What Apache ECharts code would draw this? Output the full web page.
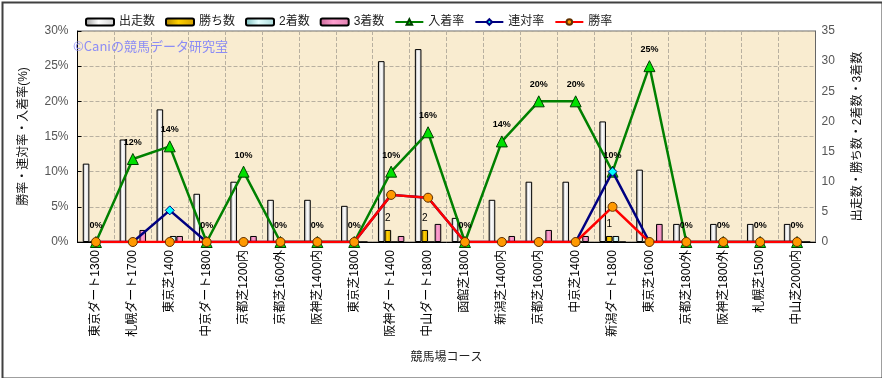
<!DOCTYPE html>
<html>
<head>
<meta charset="utf-8">
<script src="https://cdn.jsdelivr.net/npm/echarts@6/dist/echarts.min.js"></script>
<style>
html,body{margin:0;padding:0;background:#fff;}
#chart{width:882px;height:378px;}
</style>
</head>
<body>
<div id="chart"></div>
<script>
const categories = ['東京ダート1300','札幌ダート1700','東京芝1400','中京ダート1800','京都芝1200内','京都芝1600外','阪神芝1400内','東京芝1800','阪神ダート1400','中山ダート1800','函館芝1800','新潟芝1400内','京都芝1600内','中京芝1400','新潟ダート1800','東京芝1600','京都芝1800外','阪神芝1800外','札幌芝1500','中山芝2000内'];
const starts  = [13,17,22,8,10,7,7,6,30,32,4,7,10,10,20,12,3,3,3,3];
const wins    = [0,0,0,0,0,0,0,0,2,2,0,0,0,0,1,0,0,0,0,0];
const seconds = [0,0,1,0,0,0,0,0,0,0,0,0,0,0,1,0,0,0,0,0];
const thirds  = [0,2,1,0,1,0,0,0,1,3,0,1,2,1,0,3,0,0,0,0];
const placeRate   = [0,11.8,13.6,0,10,0,0,0,10,15.6,0,14.3,20,20,10,25,0,0,0,0];
const rentaiRate  = [0,0,4.5,0,0,0,0,0,6.7,6.3,0,0,0,0,10,0,0,0,0,0];
const winRate     = [0,0,0,0,0,0,0,0,6.7,6.3,0,0,0,0,5,0,0,0,0,0];
const leftTicks = [0,5,10,15,20,25,30];
const rightTicks = [0,5,10,15,20,25,30,35];

const FF = "'Liberation Sans','Noto Sans CJK JP',sans-serif";
function grad(a,b,c){
  return new echarts.graphic.LinearGradient(0,0,1,0,[{offset:0,color:a},{offset:0.45,color:b},{offset:1,color:c}]);
}
const chart = echarts.init(document.getElementById('chart'), null, {renderer:'canvas'});
const barBase = {type:'bar', yAxisIndex:1, barWidth:6.6, barGap:'0%', z:2};
chart.setOption({
  backgroundColor:'#ffffff',
  animation:false,
  textStyle:{fontFamily:FF},
  legend:{
    left:80, top:11, itemWidth:28, itemHeight:7, itemGap:10,
    textStyle:{fontSize:12, color:'#222', fontFamily:FF},
    data:['出走数','勝ち数','2着数','3着数','入着率','連対率','勝率']
  },
  graphic:[
    {type:'text', left:73, top:40, z:10, style:{text:'©Caniの競馬データ研究室', fill:'#8c8cf5', font:"13px 'Noto Sans CJK JP', sans-serif"}},
    {type:'rect', left:0, top:0, z:100, shape:{x:0,y:0,width:880,height:376}, style:{fill:'none', stroke:'#404040', lineWidth:2}, position:[1,1]}
  ],
  grid:{left:77.5, right:66.5, top:31, bottom:136, show:true, backgroundColor:'#f9ecd0', borderColor:'#666', borderWidth:1},
  xAxis:{
    type:'category', data:categories,
    name:'競馬場コース', nameLocation:'middle', nameGap:110,
    nameTextStyle:{fontSize:12, color:'#222', fontFamily:FF},
    axisLine:{lineStyle:{color:'#000'}},
    axisTick:{show:false},
    axisLabel:{rotate:90, interval:0, fontSize:12, color:'#000', margin:8, fontFamily:FF},
    splitLine:{show:true, lineStyle:{color:'#b8b0a0', type:'dashed', width:1}}
  },
  yAxis:[
    {type:'value', min:0, max:30, interval:5,
     name:'勝率・連対率・入着率(%)', nameLocation:'middle', nameRotate:90, nameGap:48,
     nameTextStyle:{fontSize:12, color:'#111', fontFamily:FF},
     axisLine:{show:true, lineStyle:{color:'#000'}},
     axisTick:{show:true, inside:true, length:4, lineStyle:{color:'#000'}},
     axisLabel:{formatter:function(v){return leftTicks.indexOf(v)>=0? v+'%':'';}, fontSize:12, color:'#555', margin:9, fontFamily:FF},
     splitLine:{show:true, lineStyle:{color:'#b8b0a0', type:'dashed', width:1}}
    },
    {type:'value', min:0, max:35, interval:5, position:'right',
     name:'出走数・勝ち数・2着数・3着数', nameLocation:'middle', nameRotate:90, nameGap:36,
     nameTextStyle:{fontSize:12, color:'#111', fontFamily:FF},
     axisLine:{show:true, lineStyle:{color:'#666'}},
     axisTick:{show:false},
     axisLabel:{formatter:function(v){return rightTicks.indexOf(v)>=0? String(v):'';}, fontSize:12, color:'#555', margin:6, fontFamily:FF},
     splitLine:{show:false}
    }
  ],
  series:[
    Object.assign({}, barBase, {name:'出走数', data:starts,
      itemStyle:{color:grad('#9a9a9a','#ffffff','#cfcfcf'), borderColor:'#000', borderWidth:1}}),
    Object.assign({}, barBase, {name:'勝ち数', data:wins,
      itemStyle:{color:grad('#b08400','#ffd000','#d09e00'), borderColor:'#000', borderWidth:1},
      label:{show:true, position:'top', distance:7, fontSize:10, color:'#000', fontFamily:FF,
        formatter:function(p){return p.value>0? String(p.value):'';}}}),
    Object.assign({}, barBase, {name:'2着数', data:seconds,
      itemStyle:{color:grad('#78bcbc','#e4ffff','#a8d8d8'), borderColor:'#000', borderWidth:1}}),
    Object.assign({}, barBase, {name:'3着数', data:thirds,
      itemStyle:{color:grad('#c86898','#ff9fd0','#e080b0'), borderColor:'#000', borderWidth:1}}),
    {name:'入着率', type:'line', yAxisIndex:0, data:placeRate, z:5,
     symbol:'triangle', symbolSize:11,
     lineStyle:{color:'#008000', width:2.5},
     itemStyle:{color:'#00e000', borderColor:'#004000', borderWidth:1},
     label:{show:true, position:'top', distance:6, fontSize:9, fontWeight:'bold', color:'#000', fontFamily:FF,
       formatter:function(p){return Math.round(p.value)+'%';}}},
    {name:'連対率', type:'line', yAxisIndex:0, data:rentaiRate, z:6,
     symbol:'diamond', symbolSize:9,
     lineStyle:{color:'#000080', width:2.5},
     itemStyle:{color:'#00ffff', borderColor:'#000080', borderWidth:1}},
    {name:'勝率', type:'line', yAxisIndex:0, data:winRate, z:7,
     symbol:'circle', symbolSize:9,
     lineStyle:{color:'#ff0000', width:2.5},
     itemStyle:{color:'#ff9900', borderColor:'#603000', borderWidth:1}}
  ]
});
</script>
</body>
</html>
